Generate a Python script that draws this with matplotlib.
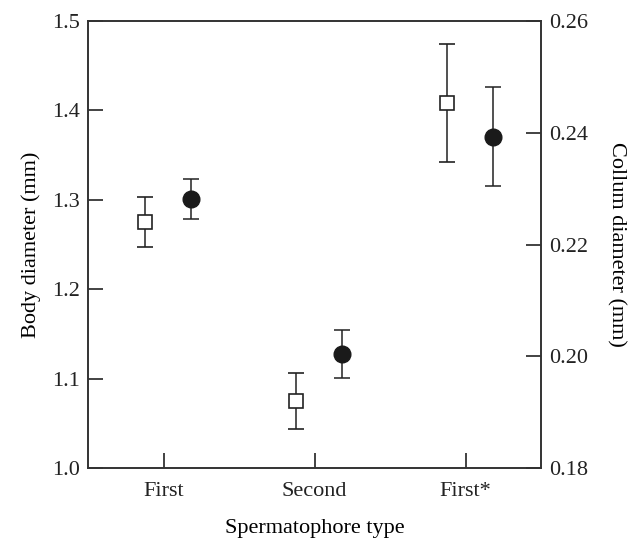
import numpy as np
import matplotlib
matplotlib.use('Agg')
import matplotlib.pyplot as plt

plt.rcParams['font.family'] = ['Liberation Serif', 'DejaVu Serif']

types = ['First', 'Second', 'First*']
body = [1.275, 1.075, 1.408]
body_err = [0.028, 0.0315, 0.066]
collum = [0.2282, 0.2004, 0.2393]
collum_err = [0.0036, 0.0043, 0.0088]

x = np.arange(len(types))

fig = plt.figure(figsize=(6.37, 5.41), dpi=100)
ax = fig.add_axes([88 / 637, 1 - 468 / 541, 453 / 637, 447 / 541])
ax2 = ax.twinx()

ax.errorbar(x - 0.12, body, yerr=body_err, fmt='s', mfc='white', mec='#222222',
            ms=10.5, mew=1.2, ecolor='#222222', elinewidth=1.1, capsize=5.5, capthick=1.1)
ax2.errorbar(x + 0.18, collum, yerr=collum_err, fmt='o', mfc='#1a1a1a', mec='#1a1a1a',
             ms=12, ecolor='#222222', elinewidth=1.1, capsize=5.5, capthick=1.1)

ax.set_xlim(-0.5, 2.5)
ax.set_ylim(1.0, 1.5)
ax2.set_ylim(0.18, 0.26)
ax.set_xticks(x)
ax.set_xticklabels(types)
ax.set_yticks(np.arange(1.0, 1.51, 0.1))
ax.set_yticklabels(['%.1f' % v for v in np.arange(1.0, 1.51, 0.1)])
ax2.set_yticks([0.18, 0.20, 0.22, 0.24, 0.26])
ax2.set_yticklabels(['0.18', '0.20', '0.22', '0.24', '0.26'])

for a in (ax, ax2):
    a.tick_params(direction='in', length=11, width=1.2, labelsize=16, pad=6, colors='#222222')
    for s in a.spines.values():
        s.set_linewidth(1.2)
        s.set_color('#333333')
ax.tick_params(axis='x', pad=10)

ax.set_xlabel('Spermatophore type', fontsize=16, labelpad=13)
ax.set_ylabel('Body diameter (mm)', fontsize=16, labelpad=8)
ax2.set_ylabel('Collum diameter (mm)', fontsize=16, rotation=270, labelpad=27)

fig.savefig('out.png', dpi=100)
